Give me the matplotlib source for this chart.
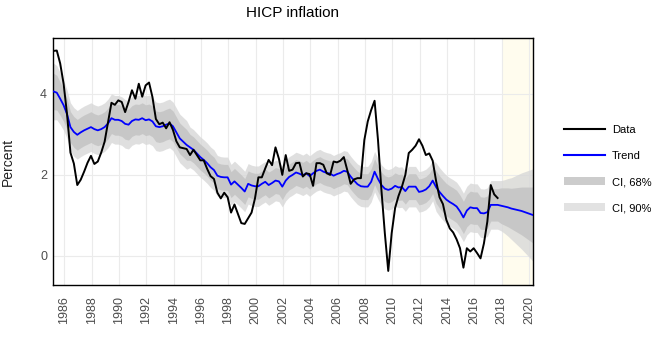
import numpy as np
import matplotlib
matplotlib.use("Agg")
import matplotlib.pyplot as plt
from matplotlib.lines import Line2D
from matplotlib.patches import Patch

plt.rcParams['font.family'] = ['Liberation Sans', 'DejaVu Sans']

# quarterly observations, first quarter plotted at 1985.2
start_year = 1985.2
hicp = [
    5.06, 5.07, 4.75, 4.25, 3.50, 2.55, 2.28, 1.75, 1.88, 2.08,
    2.30, 2.47, 2.27, 2.33, 2.55, 2.82, 3.30, 3.78, 3.73, 3.84,
    3.80, 3.55, 3.80, 4.09, 3.88, 4.25, 3.93, 4.21, 4.28, 3.92,
    3.38, 3.25, 3.29, 3.15, 3.30, 3.11, 2.83, 2.68, 2.66, 2.64,
    2.49, 2.62, 2.49, 2.36, 2.36, 2.15, 1.97, 1.90, 1.56, 1.42,
    1.56, 1.45, 1.07, 1.27, 1.04, 0.81, 0.79, 0.93, 1.07, 1.42,
    1.94, 1.94, 2.16, 2.37, 2.24, 2.68, 2.40, 2.00, 2.49, 2.10,
    2.13, 2.29, 2.30, 1.96, 2.04, 2.02, 1.73, 2.29, 2.29, 2.25,
    2.04, 2.00, 2.33, 2.31, 2.35, 2.44, 2.12, 1.78, 1.89, 1.92,
    1.92, 2.86, 3.32, 3.60, 3.83, 2.86, 1.63, 0.56, -0.37, 0.56,
    1.18, 1.48, 1.71, 2.00, 2.54, 2.62, 2.72, 2.88, 2.72, 2.49,
    2.53, 2.35, 1.85, 1.45, 1.28, 0.89, 0.68, 0.58, 0.41, 0.19,
    -0.29, 0.19, 0.11, 0.19, 0.07, -0.06, 0.31, 0.85, 1.75, 1.52,
    1.43,
]

# trend, in-sample then forecast to 2020
trend = [
    4.06, 4.03, 3.88, 3.72, 3.50, 3.18, 3.06, 2.99, 3.05, 3.10,
    3.14, 3.18, 3.13, 3.10, 3.13, 3.18, 3.27, 3.40, 3.36, 3.36,
    3.33, 3.26, 3.24, 3.33, 3.37, 3.36, 3.40, 3.35, 3.37, 3.32,
    3.20, 3.18, 3.20, 3.24, 3.27, 3.20, 3.05, 2.90, 2.82, 2.74,
    2.68, 2.62, 2.53, 2.44, 2.37, 2.29, 2.19, 2.12, 1.98, 1.95,
    1.94, 1.94, 1.76, 1.84, 1.76, 1.68, 1.59, 1.78, 1.74, 1.72,
    1.72, 1.78, 1.83, 1.75, 1.80, 1.86, 1.84, 1.71, 1.86, 1.95,
    2.00, 2.06, 2.03, 1.99, 2.04, 1.97, 2.04, 2.10, 2.13, 2.08,
    2.05, 2.03, 1.98, 2.02, 2.05, 2.10, 2.08, 1.96, 1.86, 1.77,
    1.72, 1.71, 1.71, 1.83, 2.08, 1.90, 1.75, 1.66, 1.63, 1.66,
    1.73, 1.69, 1.70, 1.60, 1.71, 1.71, 1.71, 1.58, 1.60, 1.64,
    1.72, 1.86, 1.70, 1.58, 1.48, 1.39, 1.33, 1.28, 1.22, 1.10,
    0.95, 1.12, 1.20, 1.18, 1.18, 1.06, 1.05, 1.08, 1.26, 1.26,
    1.26,
    1.24, 1.22, 1.20, 1.17, 1.15, 1.13, 1.11, 1.08, 1.05, 1.02, 0.99,
]

# half widths of the credible intervals
ci68_half = ([0.45, 0.43, 0.41, 0.40] + [0.38] * 36 + [0.32] * 72 + [0.40] * 19
             + [0.44, 0.46, 0.48, 0.50, 0.53, 0.56, 0.59, 0.62, 0.65, 0.68, 0.71])
ci90_half = ([0.70, 0.67, 0.64, 0.62] + [0.60] * 36 + [0.50] * 72 + [0.60] * 19
             + [0.62, 0.66, 0.71, 0.76, 0.82, 0.88, 0.94, 1.00, 1.06, 1.12, 1.18])

forecast_start = 2018.0
year_ticks = list(range(1986, 2021, 2))

t_data = start_year + 0.25 * np.arange(len(hicp))
t_trend = start_year + 0.25 * np.arange(len(trend))
tr = np.array(trend)
h68 = np.array(ci68_half)
h90 = np.array(ci90_half)

fig = plt.figure(figsize=(6.56, 3.39), dpi=100)
ax = fig.add_axes([0.0803, 0.159, 0.732, 0.729])

ax.axvspan(forecast_start, 2021, color='#fffcee', lw=0, zorder=0)
ax.fill_between(t_trend, tr - h90, tr + h90, color='#d8d8d8', alpha=0.8, lw=0, zorder=1)
ax.fill_between(t_trend, tr - h68, tr + h68, color='#c2c2c2', alpha=0.8, lw=0, zorder=2)
ax.plot(t_trend, tr, color='#0000ff', lw=1.3, zorder=3)
ax.plot(t_data, hicp, color='black', lw=1.4, zorder=4)

ax.set_xlim(1985.15, 2020.28)
ax.set_ylim(-0.72, 5.38)
ax.set_xticks(year_ticks)
ax.set_xticklabels([str(y) for y in year_ticks], rotation=90)
ax.set_yticks([0, 2, 4])
ax.grid(True, color='#ebebeb', lw=0.8, zorder=0)
ax.set_axisbelow(True)
ax.tick_params(length=0, labelsize=9, labelcolor='#4d4d4d')
ax.tick_params(axis='x', pad=8)
ax.tick_params(axis='y', pad=4)
for s in ax.spines.values():
    s.set_color('black')
    s.set_linewidth(1.0)

ax.set_ylabel('Percent', fontsize=10, labelpad=18, color='#222222')
ax.set_title('HICP inflation', fontsize=11, pad=15)

handles = [
    Line2D([], [], color='black', lw=1.5),
    Line2D([], [], color='#0000ff', lw=1.5),
    Patch(facecolor='#cccccc', edgecolor='none'),
    Patch(facecolor='#e2e2e2', edgecolor='none'),
]
labels = ['Data', 'Trend', 'CI, 68%', 'CI, 90%']
fig.legend(handles, labels, loc='upper left', bbox_to_anchor=(0.853, 0.645),
           frameon=False, fontsize=8, handlelength=3.7, handletextpad=0.6,
           labelspacing=1.45, borderaxespad=0)

fig.savefig('out.png', dpi=100)
